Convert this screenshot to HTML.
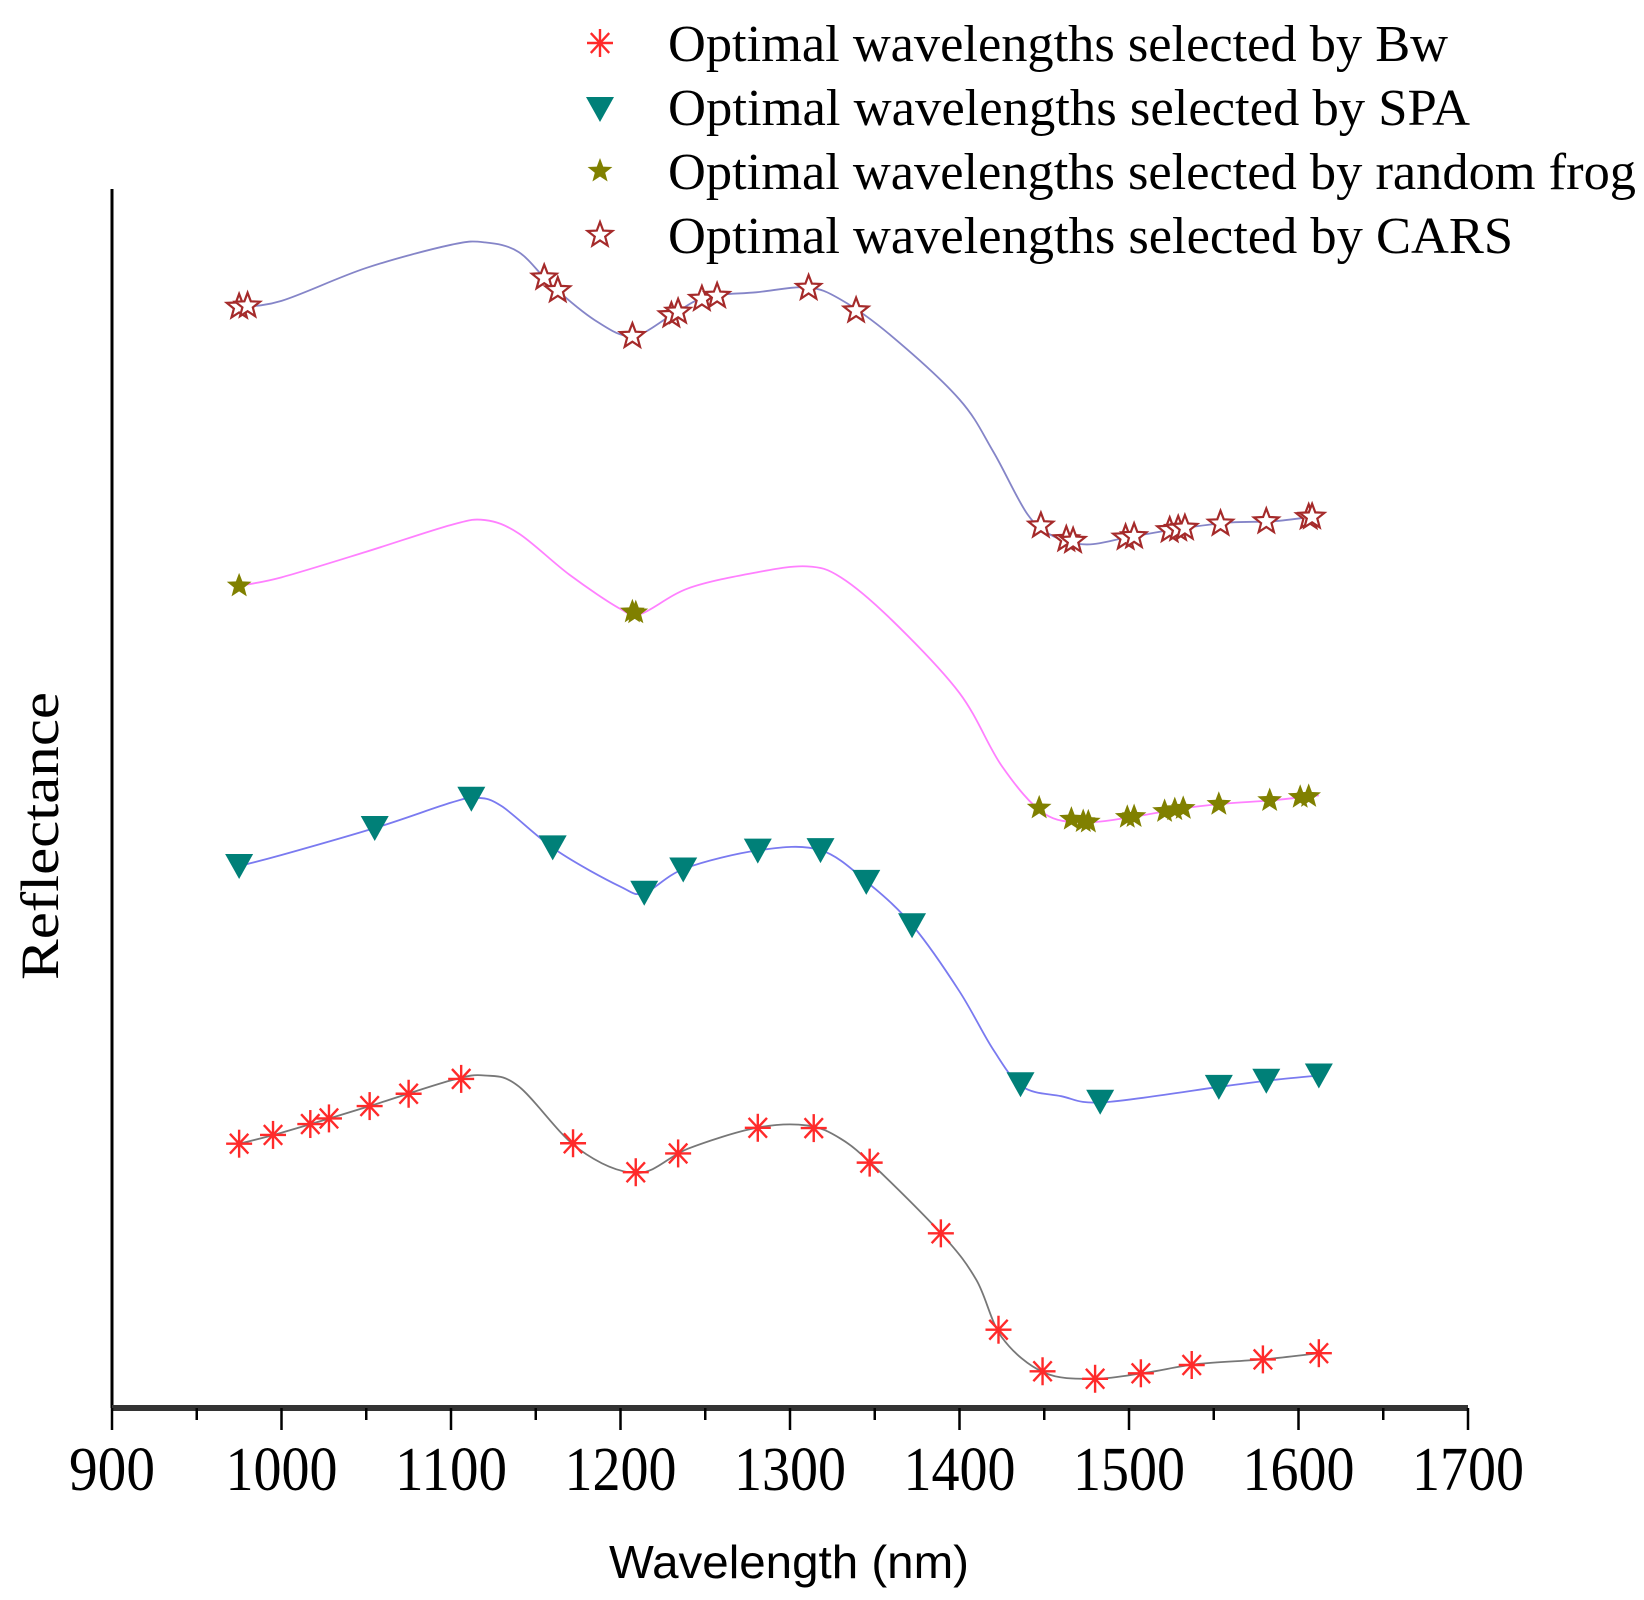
<!DOCTYPE html>
<html><head><meta charset="utf-8"><style>
html,body{margin:0;padding:0;background:#fff;}
svg{display:block;}
</style></head><body>
<svg id="chart" width="1644" height="1600" viewBox="0 0 1644 1600" xmlns="http://www.w3.org/2000/svg">
<g id="legend"></g>
<g id="axes"></g>
<g id="plot"></g>
</svg>
<script>
// ---- data (wavelength nm, relative reflectance units) ----
const xTicks = [900,1000,1100,1200,1300,1400,1500,1600,1700];
const xMinorTicks = [950,1050,1150,1250,1350,1450,1550,1650];

const bwCurveX = [975,1000,1050,1100,1120,1140,1175,1210,1240,1280,1310,1330,1350,1390,1410,1425,1450,1480,1510,1540,1580,1612];
const bwCurveY = [21.7,22.6,24.7,26.9,27.3,26.4,21.3,19.3,21.3,23.0,23.2,22.1,19.8,14.2,10.5,5.8,2.9,2.4,2.9,3.6,4.0,4.5];
const bwMarks = [975,995,1017,1028,1052,1075,1106,1172,1209,1234,1281,1314,1347,1389,1423,1449,1480,1507,1537,1579,1612];

const spaCurveX = [975,1000,1057,1100,1115,1130,1162,1200,1214,1238,1282,1318,1347,1373,1400,1420,1437,1460,1485,1555,1583,1612];
const spaCurveY = [44.5,45.4,47.7,49.7,50.1,49.4,45.8,42.8,42.3,44.3,45.8,45.8,43.0,39.5,34.2,29.4,26.4,25.6,25.1,26.4,26.9,27.3];
const spaMarks = [975,1055,1112,1160,1214,1237,1281,1318,1345,1372,1436,1483,1553,1581,1612];

const frogCurveX = [975,1000,1050,1100,1120,1140,1170,1200,1212,1240,1280,1310,1330,1360,1400,1425,1450,1475,1505,1530,1555,1585,1612];
const frogCurveY = [67.5,68.2,70.3,72.5,72.9,71.8,68.4,65.6,65.2,67.3,68.6,69.1,68.2,64.7,58.7,52.7,48.8,48.1,48.6,49.2,49.6,49.9,50.3];
const frogMarks = [975,1207,1209,1447,1466,1473,1476,1499,1503,1521,1527,1532,1553,1583,1601,1606];

const carsCurveX = [975,1000,1050,1100,1120,1140,1160,1185,1207,1230,1250,1280,1310,1330,1360,1400,1420,1440,1455,1475,1500,1530,1560,1585,1610];
const carsCurveY = [90.4,90.9,93.6,95.5,95.7,94.9,92.1,89.3,88.0,89.7,91.2,91.6,92.0,91.0,88.0,82.8,78.5,73.4,71.6,70.9,71.5,72.2,72.7,72.8,73.2];
const carsMarks = [975,980,1155,1163,1207,1230,1234,1248,1257,1311,1339,1448,1463,1467,1498,1503,1524,1529,1533,1554,1581,1606,1608];

const legendLabels = ["Optimal wavelengths selected by Bw","Optimal wavelengths selected by SPA","Optimal wavelengths selected by random frog","Optimal wavelengths selected by CARS"];
const legendWidths = [780,802,968,845];

// ---- scales ----
const X0=112, X1=1468, Y0=1408, YTOP=189;
function sx(w){return X0+(w-900)/(1700-900)*(X1-X0);}
function sy(v){return Y0-v*12.18;}
const NS="http://www.w3.org/2000/svg";
function mk(tag,attrs,parent){const e=document.createElementNS(NS,tag);for(const k in attrs)e.setAttribute(k,attrs[k]);parent.appendChild(e);return e;}
function interp(xs,ys,x){
  if(x<=xs[0])return ys[0];
  for(let i=1;i<xs.length;i++){if(x<=xs[i]){const t=(x-xs[i-1])/(xs[i]-xs[i-1]);return ys[i-1]+t*(ys[i]-ys[i-1]);}}
  return ys[ys.length-1];
}
function smoothPath(xs,ys){
  const p=xs.map((x,i)=>[sx(x),sy(ys[i])]);
  let d="M"+p[0][0]+","+p[0][1];
  for(let i=0;i<p.length-1;i++){
    const p0=p[i-1]||p[i],p1=p[i],p2=p[i+1],p3=p[i+2]||p2;
    const c1=[p1[0]+(p2[0]-p0[0])/6,p1[1]+(p2[1]-p0[1])/6];
    const c2=[p2[0]-(p3[0]-p1[0])/6,p2[1]-(p3[1]-p1[1])/6];
    d+=" C"+c1[0]+","+c1[1]+" "+c2[0]+","+c2[1]+" "+p2[0]+","+p2[1];
  }
  return d;
}
function starPts(cx,cy,R,r){let s=[];for(let i=0;i<10;i++){const a=-Math.PI/2+i*Math.PI/5;const rr=i%2?r:R;s.push((cx+rr*Math.cos(a)).toFixed(1)+","+(cy+rr*Math.sin(a)).toFixed(1));}return s.join(" ");}
function drawMarker(type,cx,cy,parent){
  const g=mk("g",{},parent);
  if(type==="bw"){
    for(let i=0;i<4;i++){const a=i*Math.PI/4+Math.PI/2;const dx=Math.cos(a)*13,dy=Math.sin(a)*14;
      mk("line",{x1:cx-dx,y1:cy-dy,x2:cx+dx,y2:cy+dy,stroke:"#ff2a2a","stroke-width":2.4},g);}
  } else if(type==="spa"){
    mk("polygon",{points:(cx-14)+","+(cy-10)+" "+(cx+14)+","+(cy-10)+" "+cx+","+(cy+15),fill:"#008078"},g);
  } else if(type==="frog"){
    mk("polygon",{points:starPts(cx,cy,13,5.5),fill:"#808000"},g);
  } else {
    mk("polygon",{points:starPts(cx,cy,13,5.5),fill:"#fff",stroke:"#a52a2a","stroke-width":2.2},g);
  }
  return g;
}

const axes=document.getElementById("axes"), plot=document.getElementById("plot"), legend=document.getElementById("legend");

// axes
const ya=mk("line",{x1:X0,y1:YTOP,x2:X0,y2:Y0,stroke:"#000","stroke-width":3},axes);


const xa=mk("line",{x1:X0,y1:Y0,x2:X1,y2:Y0,stroke:"#333","stroke-width":6},axes);


xTicks.forEach(t=>{
  const tk=mk("line",{x1:sx(t),y1:Y0,x2:sx(t),y2:1430,stroke:"#000","stroke-width":2.5},axes);
  
  
  const lb=mk("text",{x:sx(t),y:1490,"text-anchor":"middle","font-family":"Liberation Serif, serif","font-size":62,textLength:t<1000?86:112,lengthAdjust:"spacingAndGlyphs"},axes);
  lb.textContent=t;
  
  
});
xMinorTicks.forEach(t=>{
  const tk=mk("line",{x1:sx(t),y1:Y0,x2:sx(t),y2:1420,stroke:"#000","stroke-width":2.5},axes);
  
  
});
const xt=mk("text",{x:789,y:1578,"text-anchor":"middle","font-family":"Liberation Sans, sans-serif","font-size":46,textLength:360,lengthAdjust:"spacingAndGlyphs"},axes);
xt.textContent="Wavelength (nm)";


const yt=mk("text",{x:0,y:0,"text-anchor":"middle","font-family":"Liberation Serif, serif","font-size":54,transform:"translate(58,836) rotate(-90)",textLength:288,lengthAdjust:"spacingAndGlyphs"},axes);
yt.textContent="Reflectance";



// series
const series=[
  {key:"bw",cx:bwCurveX,cy:bwCurveY,marks:bwMarks,color:"#777"},
  {key:"spa",cx:spaCurveX,cy:spaCurveY,marks:spaMarks,color:"#7a7af0"},
  {key:"frog",cx:frogCurveX,cy:frogCurveY,marks:frogMarks,color:"#ff80ff"},
  {key:"cars",cx:carsCurveX,cy:carsCurveY,marks:carsMarks,color:"#8585c8"}
];
series.forEach(s=>{
  const path=mk("path",{d:smoothPath(s.cx,s.cy),fill:"none",stroke:s.color,"stroke-width":1.8},plot);
  
  
  s.marks.forEach(w=>{
    const off=s.key==="spa"?-2:0;
    const m=drawMarker(s.key,sx(w),sy(interp(s.cx,s.cy,w))+off,plot);
    
    
  });
});

// legend
const legKeys=["bw","spa","frog","cars"];
legKeys.forEach((k,i)=>{
  const by=61+i*64;
  const m=drawMarker(k,600,by-18,legend);
  
  
  const t=mk("text",{x:668,y:by,"font-family":"Liberation Serif, serif","font-size":52,textLength:legendWidths[i],lengthAdjust:"spacingAndGlyphs"},legend);
  t.textContent=legendLabels[i];
  
  
});
</script>
</body></html>
